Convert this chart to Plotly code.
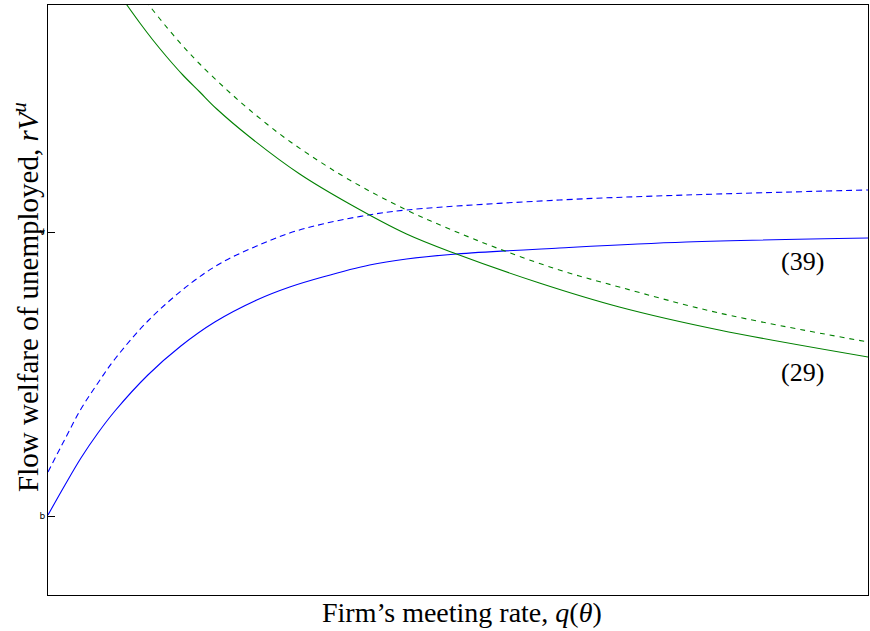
import plotly.graph_objects as go

# Data (x = firm's meeting rate, y = flow welfare)
blue_solid_x = [0, 17, 33, 50, 67, 100, 133, 167, 209, 242, 275, 322, 359, 409, 512, 639, 821]
blue_solid_y = [80, 110, 137, 162, 184, 220, 249, 273, 295, 308, 318, 330, 336, 341, 347, 353, 357]

blue_dash_x = [0, 17, 33, 50, 67, 100, 142, 175, 209, 242, 275, 315, 359, 512, 639, 821]
blue_dash_y = [123, 156, 186, 212, 236, 274, 311, 333, 349, 362, 371, 379, 385, 395, 400, 405]

green_solid_x = [72, 79, 92, 105, 119, 135, 152, 169, 202, 252, 302, 359, 409, 492, 572, 672, 821]
green_solid_y = [600, 590, 572, 555, 538, 520, 503, 486, 458, 421, 391, 361, 341, 312, 288, 265, 238]

green_dash_x = [92, 101, 117, 135, 152, 177, 202, 232, 262, 302, 359, 402, 452, 512, 572, 672, 821]
green_dash_y = [602, 590, 570, 549, 531, 507, 485, 461, 440, 415, 385, 366, 346, 325, 308, 282, 253]

y_tick_vals = [79, 363]
y_tick_text = ["b", "v"]

label_39 = "(39)"
label_29 = "(29)"

SERIF = "Liberation Serif, DejaVu Serif, serif"

fig = go.Figure()
fig.add_trace(go.Scatter(x=blue_solid_x, y=blue_solid_y, mode="lines",
                         line=dict(color="#0000ff", width=1.1, shape="spline"), showlegend=False))
fig.add_trace(go.Scatter(x=blue_dash_x, y=blue_dash_y, mode="lines",
                         line=dict(color="#0000ff", width=1.1, shape="spline", dash="6px,4px"), showlegend=False))
fig.add_trace(go.Scatter(x=green_solid_x, y=green_solid_y, mode="lines",
                         line=dict(color="#008000", width=1.1, shape="spline"), showlegend=False))
fig.add_trace(go.Scatter(x=green_dash_x, y=green_dash_y, mode="lines",
                         line=dict(color="#008000", width=1.1, shape="spline", dash="5px,5px"), showlegend=False))

fig.add_annotation(x=755, y=334, xref="x", yref="y", text=label_39, showarrow=False,
                   font=dict(family=SERIF, size=26, color="black"))
fig.add_annotation(x=755, y=223, xref="x", yref="y", text=label_29, showarrow=False,
                   font=dict(family=SERIF, size=26, color="black"))

fig.add_annotation(x=0.505, y=-0.029, xref="paper", yref="paper",
                   text="Firm’s meeting rate, <i>q</i>(<i>θ</i>)", showarrow=False,
                   xanchor="center", yanchor="middle",
                   font=dict(family=SERIF, size=28, color="black"))
fig.add_annotation(x=-0.027, y=0.505, xref="paper", yref="paper",
                   text="Flow welfare of unemployed, <i>rV</i><sup><i>u</i></sup>", showarrow=False,
                   textangle=-90, xanchor="center", yanchor="middle",
                   font=dict(family=SERIF, size=29, color="black"))

fig.update_xaxes(range=[0, 821], showgrid=False, zeroline=False, showticklabels=False, ticks="",
                 showline=True, linecolor="black", linewidth=1.2, mirror=True)
fig.update_yaxes(range=[0, 590], showgrid=False, zeroline=False,
                 tickmode="array", tickvals=y_tick_vals, ticktext=y_tick_text,
                 ticks="inside", ticklen=7, tickcolor="black", tickwidth=1,
                 tickfont=dict(family="DejaVu Sans, sans-serif", size=9, color="black"),
                 showline=True, linecolor="black", linewidth=1.2, mirror=True)

fig.update_layout(width=870, height=631, autosize=False, margin=dict(l=48, r=1, t=5, b=36),
                  plot_bgcolor="white", paper_bgcolor="white")

post = ("document.body.style.margin='0';document.body.style.padding='0';"
        "document.documentElement.style.overflow='hidden';document.body.style.overflow='hidden';"
        "var gd=document.getElementById('{plot_id}');"
        "Plotly.relayout(gd,{width:870,height:631});")
fig.write_html("out.html", post_script=post, config={"displayModeBar": False})
